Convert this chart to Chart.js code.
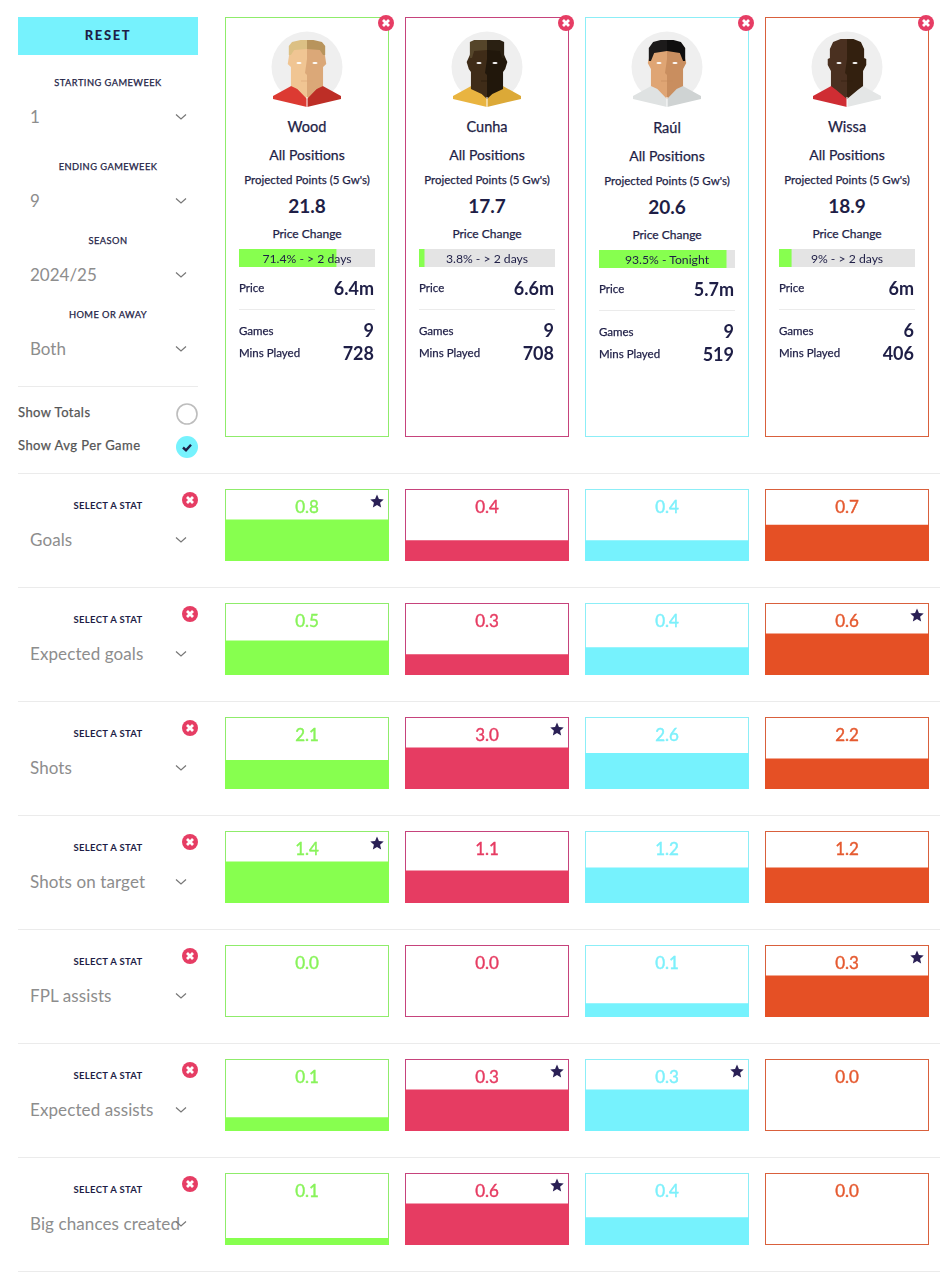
<!DOCTYPE html>
<html>
<head>
<meta charset="utf-8">
<title>Player comparison</title>
<script src="https://cdn.jsdelivr.net/npm/chart.js@4"></script>
<style>
  html, body { margin: 0; padding: 0; background: #fff; }
  #page { position: relative; width: 940px; height: 1272px; overflow: hidden; font-family: Lato, sans-serif; color: #1e1e46; }
  #page > * { position: absolute; }
  .t { white-space: nowrap; line-height: 1; }
  .line { background: #ebebeb; height: 1px; }
  .box { box-sizing: border-box; border: 1.5px solid; }
  canvas { display: block; }
</style>
</head>
<body>
<div id="page"></div>
<script>
// players
const players = ['Wood', 'Cunha', 'Raúl', 'Wissa'];
const projected = ['21.8', '17.7', '20.6', '18.9'];
const priceChange = [71.4, 3.8, 93.5, 9];
const priceChangeText = ['71.4% - > 2 days', '3.8% - > 2 days', '93.5% - Tonight', '9% - > 2 days'];
const prices = ['6.4m', '6.6m', '5.7m', '6m'];
const games = [9, 9, 9, 6];
const minsPlayed = [728, 708, 519, 406];

// stats per game
const statNames = ['Goals', 'Expected goals', 'Shots', 'Shots on target', 'FPL assists', 'Expected assists', 'Big chances created'];
const goals = [0.8, 0.4, 0.4, 0.7];
const expectedGoals = [0.5, 0.3, 0.4, 0.6];
const shots = [2.1, 3.0, 2.6, 2.2];
const shotsOnTarget = [1.4, 1.1, 1.2, 1.2];
const fplAssists = [0.0, 0.0, 0.1, 0.3];
const expectedAssists = [0.1, 0.3, 0.3, 0.0];
const bigChances = [0.1, 0.6, 0.4, 0.0];
const statRows = [goals, expectedGoals, shots, shotsOnTarget, fplAssists, expectedAssists, bigChances];

const barColors = ['#87ff4f', '#e63c62', '#76f2fd', '#e55025'];
const borderColors = ['#8fec6b', '#c6437c', '#8ceef7', '#d9603c'];
const labelColors = ['#88f35a', '#e63c62', '#7df0fb', '#e55a30'];
const cardX = [225, 405, 585, 765];
const navy = '#1e1e46';
const medium = '-webkit-text-stroke:.25px;'; // Lato has no medium cut here
const page = document.getElementById('page');

function add(html) {
    page.insertAdjacentHTML('beforeend', html);
    return page.lastElementChild;
}

// anchor: l = left edge at x, c = centre at x, r = right edge at x. y is always the middle of the text
function text(x, y, str, size, weight, color, anchor, extra) {
    const shift = anchor === 'c' ? '-50%' : anchor === 'r' ? '-100%' : '0';
    add(`<div class="t" style="left:${x}px;top:${y}px;transform:translate(${shift},-50%);font-size:${size}px;font-weight:${weight};color:${color};${extra || ''}">${str}</div>`);
}

function chevron(x, y) {
    add(`<svg style="left:${x - 6}px;top:${y - 4}px" width="12" height="8"><polyline points="1,1.5 6,6 11,1.5" fill="none" stroke="#777" stroke-width="1.2"/></svg>`);
}

function closeBtn(x, y) {
    add(`<svg style="left:${x - 8}px;top:${y - 8}px" width="16" height="16"><circle cx="8" cy="8" r="8" fill="#e63d64"/><path d="M5 5L11 11M11 5L5 11" stroke="#fff" stroke-width="2.8"/></svg>`);
}

function star(x, y) {
    add(`<svg style="left:${x - 7}px;top:${y - 7}px" width="14" height="14" viewBox="0 0 24 24"><path d="M12 1l3.3 7.6 8.2.8-6.2 5.5 1.8 8.1L12 18.8 4.9 23l1.8-8.1L.5 9.4l8.2-.8z" fill="#2a2055"/></svg>`);
}

function dropdown(y, label, value) {
    text(108, y - 34.5, label, 9.3, 400, navy, 'c', 'letter-spacing:.45px;' + medium);
    text(30, y - 1, value, 17, 400, '#8d8d8d', 'l');
    chevron(181, y);
}

// flat shaded avatars, x around 0 is the middle of the face
const avatars = [
    { hairL: '#dcc084', hairR: '#b8945c', skinL: '#f0c593', skinR: '#dba878', shirtL: '#dc3a32', shirtR: '#bd2e26',
      hair: '-17,24 -17,15 -14,11 -6,9 0,9 0,18 -12,19 -15,24', head: '-16,16 -17,26 -18,33 -15,36 -15,55 -9,58 0,68 0,14' },
    { hairL: '#55452a', hairR: '#2a2012', skinL: '#3f2c18', skinR: '#21170b', shirtL: '#e9b440', shirtR: '#dca937',
      hair: '-16,27 -16,11 -12,9 0,9 0,19 -12,20 -14,27', head: '-15,15 -16,24 -19,31 -17,38 -15,41 -15,58 -5,63 0,68 0,14' },
    { hairL: '#1c1a1a', hairR: '#0f0e0e', skinL: '#dfa574', skinR: '#c98e5f', shirtL: '#dfe2e2', shirtR: '#cfd3d3',
      hair: '-17,30 -17,17 -13,11 -6,9 0,9 0,20 -12,22 -15,30', head: '-15,15 -16,24 -18,32 -15,38 -15,55 -9,58 0,68 0,14' },
    { hairL: '#4a3020', hairR: '#35200f', skinL: '#4a3020', skinR: '#33200f', shirtL: '#cf2d33', shirtR: '#e4e6e6',
      hair: '0,0 0,0 0,0', head: '-16,18 -13,11 -6,8 0,8 0,68 -10,59 -15,55 -15,40 -18,34 -18,28 -16,27' }
];

function mirror(points) {
    return points.split(' ').map(p => {
        const xy = p.split(',');
        return (-xy[0]) + ',' + xy[1];
    }).join(' ');
}

function avatar(cx, top, a) {
    add(`<svg style="left:${cx - 37}px;top:${top}px" width="74" height="78" viewBox="-37 0 74 78">
      <circle cx="0" cy="36" r="35.5" fill="#efefef"/>
      <polygon points="-34,65 -14,54 0,66 0,76 -34,68" fill="${a.shirtL}"/>
      <polygon points="34,65 14,54 0,66 0,76 34,68" fill="${a.shirtR}"/>
      <g transform="scale(1.07,1)">
        <polygon points="${a.head}" fill="${a.skinL}"/>
        <polygon points="${mirror(a.head)}" fill="${a.skinR}"/>
        <polygon points="${a.hair}" fill="${a.hairL}"/>
        <polygon points="${mirror(a.hair)}" fill="${a.hairR}"/>
      </g>
      <polygon points="0,28 -2,42 0,44" fill="${a.skinR}"/>
      <rect x="-6" y="49.5" width="12" height="1" fill="${a.skinR}" opacity=".6"/>
      <ellipse cx="-8" cy="32" rx="2.6" ry="1" fill="#fff"/>
      <ellipse cx="8" cy="32" rx="2.6" ry="1" fill="#fff"/>
      <path d="M0 66V76" stroke="#fff" stroke-width="1"/>
    </svg>`);
}

// left panel
add('<div style="left:18px;top:17px;width:180px;height:38px;background:#76f2fd"></div>');
text(108, 35, 'RESET', 13, 900, navy, 'c', 'letter-spacing:1.6px;');
dropdown(117, 'STARTING GAMEWEEK', '1');
dropdown(201, 'ENDING GAMEWEEK', '9');
dropdown(275, 'SEASON', '2024/25');
dropdown(349, 'HOME OR AWAY', 'Both');
add('<div class="line" style="left:18px;top:386px;width:180px"></div>');
text(18, 412, 'Show Totals', 13, 400, '#555', 'l', 'letter-spacing:.45px;' + medium);
add('<svg style="left:176px;top:403px" width="22" height="22"><circle cx="11" cy="11" r="10" fill="#fff" stroke="#bdbdbd" stroke-width="1.6"/></svg>');
text(18, 445, 'Show Avg Per Game', 13, 400, '#555', 'l', 'letter-spacing:.45px;' + medium);
add(`<svg style="left:176px;top:436px" width="22" height="22"><circle cx="11" cy="11" r="11" fill="#76f2fd"/><path d="M7 11.5l3 2.8 5-5.6" fill="none" stroke="${navy}" stroke-width="2.4"/></svg>`);

// player cards
players.forEach((name, i) => {
    const x = cardX[i];
    const mid = x + 82;
    const dy = i === 2 ? 1 : 0; // third card sits a pixel lower in the source
    add(`<div class="box" style="left:${x}px;top:17px;width:164px;height:420px;border-color:${borderColors[i]}"></div>`);
    closeBtn(x + 161, 23);
    avatar(mid, 31, avatars[i]);
    text(mid, 127 + dy, name, 14.5, 400, navy, 'c', medium);
    text(mid, 155 + dy, 'All Positions', 14, 400, navy, 'c', medium);
    text(mid, 180 + dy, "Projected Points (5 Gw's)", 11.5, 400, navy, 'c', medium);
    text(mid, 205 + dy, projected[i], 19, 700, navy, 'c');
    text(mid, 234 + dy, 'Price Change', 12, 400, navy, 'c', medium);

    const bar = add(`<div style="left:${x + 14}px;top:${249 + dy}px;width:136px;height:18px;background:#e4e4e4"><canvas id="price${i}" width="136" height="18"></canvas></div>`);
    new Chart(bar.querySelector('canvas'), {
        type: 'bar',
        data: {
            labels: [name],
            datasets: [{ data: [priceChange[i]], backgroundColor: '#87ff4f', barPercentage: 1, categoryPercentage: 1 }]
        },
        options: {
            indexAxis: 'y',
            responsive: false,
            animation: false,
            scales: {
                x: { display: false, min: 0, max: 100 },
                y: { display: false }
            },
            plugins: { legend: { display: false }, tooltip: { enabled: false } }
        }
    });
    text(mid, 259 + dy, priceChangeText[i], 12.2, 400, navy, 'c');

    text(x + 14, 288 + dy, 'Price', 11.5, 400, navy, 'l', medium);
    text(x + 149, 288 + dy, prices[i], 18, 700, navy, 'r');
    add(`<div class="line" style="left:${x + 14}px;top:${309 + dy}px;width:136px"></div>`);
    text(x + 14, 331 + dy, 'Games', 11.5, 400, navy, 'l', medium);
    text(x + 149, 330 + dy, games[i], 18, 700, navy, 'r');
    text(x + 14, 353 + dy, 'Mins Played', 11.5, 400, navy, 'l', medium);
    text(x + 149, 353 + dy, minsPlayed[i], 18, 700, navy, 'r');
});

// stat rows, one chart per row with a bar for each player
add('<div class="line" style="left:18px;top:473px;width:922px"></div>');
statRows.forEach((values, r) => {
    const top = 489 + r * 114;
    text(108, top + 16.5, 'SELECT A STAT', 9.5, 700, navy, 'c', 'letter-spacing:.3px;');
    closeBtn(190, top + 11);
    text(30, top + 50, statNames[r], 17, 400, '#8d8d8d', 'l', 'letter-spacing:.1px;');
    chevron(181, top + 51);
    add(`<div class="line" style="left:18px;top:${top + 98}px;width:922px"></div>`);

    values.forEach((v, i) => {
        add(`<div class="box" style="left:${cardX[i]}px;top:${top}px;width:164px;height:72px;border-color:${borderColors[i]}"></div>`);
    });

    const best = Math.max(...values);
    const holder = add(`<div style="left:217px;top:${top}px;width:720px;height:72px"><canvas width="720" height="72"></canvas></div>`);
    new Chart(holder.querySelector('canvas'), {
        type: 'bar',
        data: {
            labels: players,
            datasets: [{
                data: values,
                backgroundColor: barColors,
                borderWidth: 0,
                barPercentage: 164 / 180,
                categoryPercentage: 1
            }]
        },
        options: {
            responsive: false,
            animation: false,
            scales: {
                x: { display: false },
                // the best player of a row always fills about 41.5 of the 72 pixels
                y: { display: false, min: 0, max: best * 72 / 41.5 }
            },
            plugins: { legend: { display: false }, tooltip: { enabled: false } }
        }
    });

    values.forEach((v, i) => {
        text(cardX[i] + 82, top + 16.5, v.toFixed(1), 17, 400, labelColors[i], 'c', '-webkit-text-stroke:.4px;');
        if (v === best) star(cardX[i] + 151.5, top + 12);
    });
});
</script>
</body>
</html>
